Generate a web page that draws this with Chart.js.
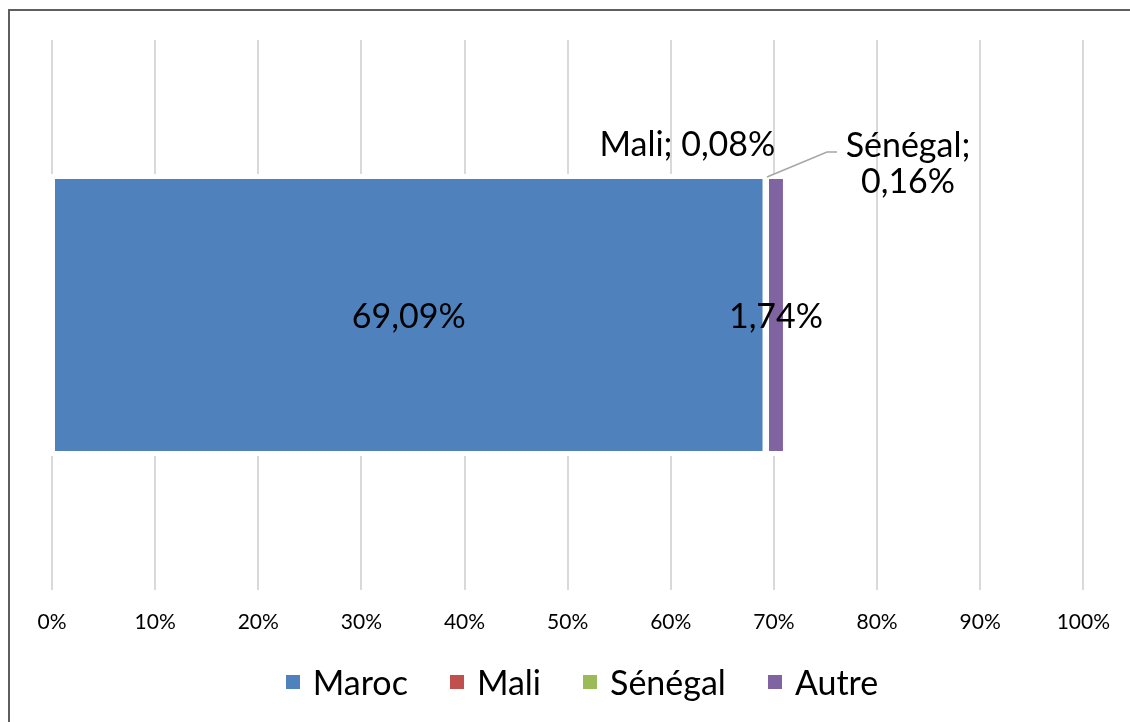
<!DOCTYPE html>
<html>
<head>
<meta charset="utf-8">
<script src="https://cdn.jsdelivr.net/npm/chart.js@4.4.0/dist/chart.umd.min.js"></script>
<style>
  html, body { margin: 0; padding: 0; background: #fff; }
  #frame {
    position: absolute; left: 8px; top: 9px; right: -10px; bottom: -10px;
    border-left: 2px solid #5f5f5f; border-top: 2px solid #5f5f5f;
  }
  #wrap { position: absolute; left: 0; top: 0; width: 1130px; height: 722px; }
  #legend {
    position: absolute; left: 34px; right: 0; top: 664px; height: 36px;
    display: flex; justify-content: center; align-items: center;
    font-family: Lato, "Open Sans", sans-serif; font-size: 34px; line-height: 36px;
    color: #000; white-space: nowrap;
  }
  .legend-item { display: flex; align-items: center; margin: 0 21px; }
  .legend-box { width: 14px; height: 14px; margin-right: 13px; }
</style>
</head>
<body>
<div id="frame"></div>
<div id="wrap"><canvas id="barChart"></canvas></div>
<div id="legend"></div>
<script>
// Data
const categories = ['Origine'];
const seriesNames = ['Maroc', 'Mali', 'Sénégal', 'Autre'];
const seriesValues = [69.09, 0.08, 0.16, 1.74];
const seriesColors = ['#4F81BD', '#C0504D', '#9BBB59', '#8064A2'];
const tickLabels = ['0%', '10%', '20%', '30%', '40%', '50%', '60%', '70%', '80%', '90%', '100%'];

const FONT = 'Lato, "Open Sans", sans-serif';

function fmt(v) {
  return v.toFixed(2).replace('.', ',') + '%';
}

// Erase grid lines just around the bar (Excel-like white outline)
const barHalo = {
  id: 'barHalo',
  beforeDatasetsDraw(chart) {
    const ctx = chart.ctx;
    let left = Infinity, right = -Infinity, top = 0, bottom = 0;
    chart.data.datasets.forEach((ds, i) => {
      const el = chart.getDatasetMeta(i).data[0];
      left = Math.min(left, el.base, el.x);
      right = Math.max(right, el.base, el.x);
      top = el.y - el.height / 2;
      bottom = el.y + el.height / 2;
    });
    ctx.save();
    ctx.fillStyle = '#ffffff';
    ctx.fillRect(left - 2, top - 3, right - left + 4, bottom - top + 6);
    ctx.restore();
  }
};

// Data labels
const barLabels = {
  id: 'barLabels',
  afterDatasetsDraw(chart) {
    const ctx = chart.ctx;
    ctx.save();
    ctx.font = '34px ' + FONT;
    ctx.fillStyle = '#000';
    ctx.textAlign = 'center';
    ctx.textBaseline = 'middle';
    chart.data.datasets.forEach((ds, i) => {
      const el = chart.getDatasetMeta(i).data[0];
      const val = ds.data[0];
      const top = el.y - el.height / 2;
      if (ds.labelMode === 'inside') {
        ctx.fillText(fmt(val), (el.base + el.x) / 2, el.y + 2);
      } else if (ds.labelMode === 'above') {
        ctx.fillText(ds.label + '; ' + fmt(val), el.x - 78, top - 32);
      } else if (ds.labelMode === 'callout') {
        ctx.strokeStyle = '#a6a6a6';
        ctx.lineWidth = 1.5;
        ctx.beginPath();
        ctx.moveTo(el.x, top);
        ctx.lineTo(el.x + 60, top - 25);
        ctx.lineTo(el.x + 70, top - 25);
        ctx.stroke();
        ctx.fillText(ds.label + ';', el.x + 141, top - 31);
        ctx.fillText(fmt(val), el.x + 141, top + 5);
      }
    });
    ctx.restore();
  }
};

const labelModes = ['inside', 'above', 'callout', 'inside'];

const ctx = document.getElementById('barChart').getContext('2d');
const chart = new Chart(ctx, {
  type: 'bar',
  data: {
    labels: categories,
    datasets: seriesNames.map((name, i) => ({
      label: name,
      data: [seriesValues[i]],
      backgroundColor: seriesColors[i],
      borderColor: '#ffffff',
      borderWidth: 2,
      borderSkipped: false,
      categoryPercentage: 1,
      barPercentage: 0.502,
      labelMode: labelModes[i]
    }))
  },
  options: {
    indexAxis: 'y',
    responsive: true,
    maintainAspectRatio: false,
    animation: false,
    layout: { padding: { top: 40, left: 52, right: 45, bottom: 72 } },
    scales: {
      x: {
        stacked: true,
        min: 0,
        max: 100,
        ticks: {
          stepSize: 10,
          color: '#000',
          font: { family: FONT, size: 21 },
          padding: 20,
          callback: (v, idx) => tickLabels[idx]
        },
        grid: { color: '#d9d9d9', lineWidth: 2, drawTicks: false },
        border: { display: false },
        afterFit(scale) { scale.height = 60; }
      },
      y: {
        stacked: true,
        display: false
      }
    },
    plugins: {
      legend: { display: false },
      tooltip: { enabled: false }
    }
  },
  plugins: [barHalo, barLabels]
});

// Build the legend manually
const legendContainer = document.getElementById('legend');
seriesNames.forEach((name, i) => {
  const item = document.createElement('div');
  item.className = 'legend-item';
  const box = document.createElement('div');
  box.className = 'legend-box';
  box.style.backgroundColor = seriesColors[i];
  const label = document.createElement('span');
  label.textContent = name;
  item.appendChild(box);
  item.appendChild(label);
  legendContainer.appendChild(item);
});
</script>
</body>
</html>
